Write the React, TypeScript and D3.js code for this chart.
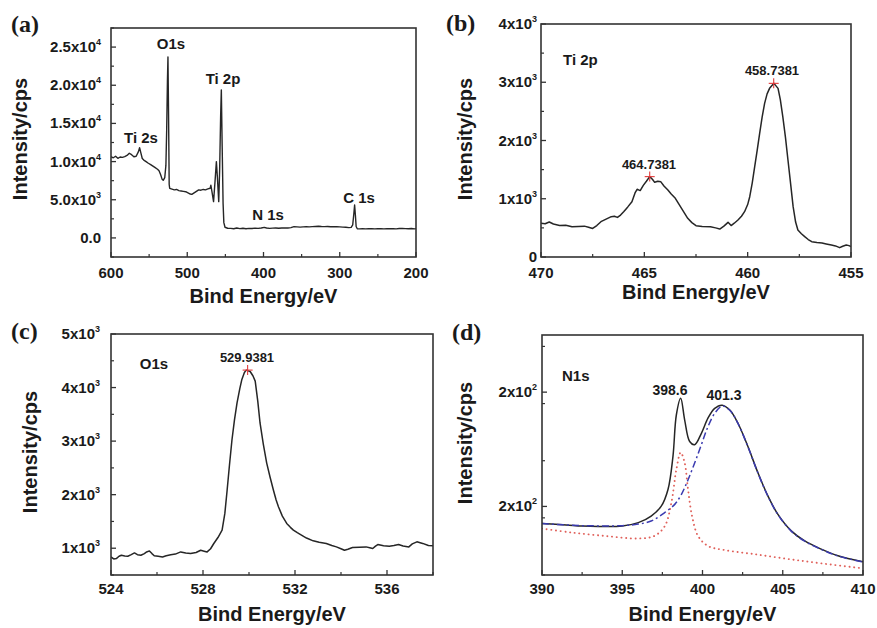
import React from "react";
import * as d3 from "d3";

// survey spectrum (a): [binding energy, counts]
const surveyData: [number, number][] = [
  [600, 10640], [597, 10500], [594, 10700], [591, 10430], [588, 10600], [585, 10550],
  [582, 10640], [579, 10800], [576, 11090], [573, 10900], [570, 10640], [567, 10700],
  [564, 11300], [562.5, 11820], [561, 11200], [559, 10400], [557, 10200], [554, 10000],
  [551, 9780], [548, 9600], [545, 9400], [542, 9200], [539, 9000], [537, 8800],
  [535, 8300], [533, 7700], [531.5, 7550], [529.5, 7900], [528, 9500], [527, 14000],
  [526, 20500], [525.3, 23700], [524.5, 16000], [523.7, 7000], [523, 6500], [520, 6400],
  [517, 6300], [514, 6350], [511, 6200], [508, 6150], [505, 6100], [502, 6050],
  [499, 5900], [496, 5750], [494, 5700], [491, 5900], [488, 6100], [485, 6300],
  [482, 6250], [479, 6350], [476, 6300], [473, 6420], [470, 6500], [469, 6900],
  [467.5, 6000], [465.5, 4750], [463.5, 7500], [461.8, 10000], [460.5, 8000], [458.7, 4750],
  [457.5, 9000], [456.2, 16000], [455.3, 19400], [454.2, 12000], [453, 4500], [452, 2000],
  [450.5, 1400], [447, 1270], [443, 1250], [439, 1200], [435, 1300], [431, 1220],
  [427, 1260], [423, 1200], [419, 1250], [415, 1230], [411, 1280], [407, 1250],
  [403, 1300], [399, 1380], [396, 1300], [392, 1250], [388, 1280], [384, 1300],
  [380, 1270], [376, 1300], [372, 1320], [368, 1300], [364, 1350], [360, 1480],
  [356, 1450], [352, 1420], [348, 1440], [344, 1460], [340, 1450], [336, 1480],
  [332, 1500], [328, 1520], [324, 1490], [320, 1480], [316, 1500], [312, 1470],
  [308, 1460], [304, 1480], [300, 1450], [296, 1420], [292, 1400], [288, 1350],
  [285, 1380], [283, 1700], [281.5, 3200], [280.5, 4320], [279.5, 3000], [278.5, 1500],
  [277, 1200], [274, 1180], [270, 1200], [266, 1190], [262, 1220], [258, 1200],
  [254, 1180], [250, 1210], [246, 1200], [242, 1190], [238, 1220], [234, 1200],
  [230, 1210], [226, 1190], [222, 1230], [218, 1250], [214, 1220], [210, 1200],
  [206, 1240], [202, 1180], [200, 1220],
];

// Ti 2p (b)
const ti2pData: [number, number][] = [
  [470, 578], [469.8, 570], [469.6, 600], [469.4, 566], [469.1, 540], [468.8, 545],
  [468.5, 520], [468.2, 525], [467.9, 530], [467.7, 512], [467.5, 490], [467.3, 540],
  [467.1, 606], [466.85, 650], [466.6, 692], [466.45, 700], [466.3, 680], [466.15, 720],
  [466, 778], [465.8, 860], [465.6, 950], [465.45, 1100], [465.35, 1162], [465.2, 1140],
  [465.05, 1230], [464.9, 1300], [464.74, 1380], [464.6, 1330], [464.5, 1282], [464.35, 1300],
  [464.2, 1290], [464.05, 1220], [463.86, 1150], [463.7, 1080], [463.5, 1007], [463.35, 920],
  [463.2, 836], [463.05, 750], [462.9, 664], [462.7, 590], [462.5, 538], [462.2, 525],
  [461.8, 520], [461.55, 500], [461.35, 480], [461.15, 530], [460.95, 595], [460.8, 540],
  [460.65, 580], [460.47, 635], [460.3, 700], [460.15, 778], [460.0, 900], [459.9, 1035],
  [459.78, 1270], [459.66, 1550], [459.54, 1830], [459.42, 2123], [459.3, 2400], [459.18, 2638],
  [459.06, 2800], [458.94, 2895], [458.73, 2981], [458.53, 2895], [458.42, 2700], [458.3, 2409],
  [458.17, 2050], [458.05, 1665], [457.92, 1250], [457.8, 864], [457.68, 600], [457.57, 464],
  [457.4, 400], [457.24, 349], [457.07, 300], [456.9, 263], [456.65, 250], [456.4, 240],
  [456.2, 225], [455.95, 206], [455.75, 190], [455.55, 160], [455.4, 185], [455.23, 206],
  [455.1, 195], [455, 180],
];

// O 1s (c)
const o1sData: [number, number][] = [
  [524, 837], [524.12, 800], [524.23, 807], [524.35, 850], [524.45, 869], [524.6, 855],
  [524.73, 850], [524.88, 880], [525.02, 912], [525.15, 880], [525.3, 869], [525.45, 900],
  [525.55, 930], [525.67, 950], [525.78, 900], [525.88, 860], [526.05, 850], [526.24, 837],
  [526.4, 860], [526.6, 880], [526.8, 890], [527.03, 931], [527.25, 910], [527.46, 900],
  [527.7, 920], [527.9, 962], [528.05, 945], [528.18, 931], [528.33, 990], [528.47, 1088],
  [528.65, 1200], [528.83, 1338], [528.95, 1650], [529.05, 2088], [529.15, 2550], [529.26, 3026],
  [529.37, 3400], [529.48, 3714], [529.6, 3980], [529.69, 4152], [529.8, 4280], [529.88, 4326],
  [530.05, 4300], [530.17, 4220], [530.27, 4120], [530.38, 3750], [530.48, 3339], [530.62, 2950],
  [530.77, 2589], [530.92, 2320], [531.06, 2088], [531.18, 1900], [531.28, 1775], [531.45, 1600],
  [531.64, 1463], [531.8, 1390], [531.93, 1338], [532.1, 1290], [532.28, 1244], [532.5, 1190],
  [532.79, 1138], [533.05, 1110], [533.36, 1088], [533.6, 1050], [533.8, 1025], [534.0, 990],
  [534.15, 962], [534.3, 980], [534.5, 1013], [534.8, 1020], [535.09, 1025], [535.25, 1010],
  [535.38, 994], [535.5, 1040], [535.6, 1069], [535.85, 1045], [536.1, 1038], [536.3, 1050],
  [536.5, 1069], [536.7, 1040], [536.95, 1025], [537.1, 1080], [537.3, 1119], [537.55, 1090],
  [537.8, 1050], [538, 1045],
];

// N 1s (d): envelope and two fitted components
const n1sEnvelope: [number, number][] = [
  [390, 192.5], [391.5, 191.9], [392.5, 191.4], [393.5, 191.2], [395, 191.4], [396, 192.9],
  [396.8, 195.8], [397.43, 200.1], [397.85, 207.4], [398.16, 221.9], [398.37, 240], [398.64, 247.3],
  [398.89, 237.8], [399.2, 228.4], [399.51, 227], [399.93, 232], [400.34, 238.6], [400.76, 242.9],
  [401.22, 244.3], [401.7, 242.2], [402.21, 236.4], [402.83, 226.2], [403.46, 214.6], [404.08, 204.5],
  [404.7, 196.5], [405.53, 189.3], [406.37, 184.9], [407.4, 181.3], [408.44, 178.4], [410, 175.8],
];
const n1sPeak4013: [number, number][] = [
  [390, 192.5], [392.5, 191.6], [395, 191.6], [396, 192.3], [396.8, 193.6], [397.64, 197.3],
  [398.27, 200.9], [398.68, 205.2], [399.1, 211.7], [399.51, 219], [399.93, 227], [400.34, 234.9],
  [400.76, 240.7], [401.22, 243.9], [401.7, 242.1], [402.21, 236.3], [402.83, 226.1], [403.46, 214.5],
  [404.08, 204.4], [404.7, 196.4], [405.53, 189.2], [406.37, 184.8], [407.4, 181.2], [408.44, 178.3],
  [410, 175.7],
];
const n1sPeak3986: [number, number][] = [
  [390, 190.3], [391.83, 188.6], [393.9, 187.1], [395.98, 186], [397, 187.1], [397.65, 191.4],
  [398.06, 201.6], [398.37, 216.1], [398.64, 223.6], [398.89, 219], [399.1, 207.4], [399.35, 195.8],
  [399.72, 187.1], [400.34, 182.7], [401.38, 180.9], [403.25, 179.1], [405.33, 177], [407.4, 175.1],
  [410, 172.9],
];

const surveyXTicks = [600, 500, 400, 300, 200];
const surveyYTicks = [0, 5000, 10000, 15000, 20000, 25000];
const ti2pXTicks = [470, 465, 460, 455];
const ti2pYTicks = [0, 1000, 2000, 3000, 4000];
const o1sXTicks = [524, 528, 532, 536];
const o1sYTicks = [1000, 2000, 3000, 4000, 5000];
const n1sXTicks = [390, 395, 400, 405, 410];
const n1sYTicks = [200, 250];

const SANS = "'Liberation Sans', Arial, Helvetica, sans-serif";
const SERIF = "'Liberation Serif', 'Times New Roman', serif";

type Series = { data: [number, number][]; color: string; width: number; dash?: string; dots?: boolean; smooth?: boolean };
type Note = { text: string; x: number; y: number; size: number; anchor?: string };

function Panel(p: {
  id: string;
  box: [number, number, number, number];
  xDomain: [number, number];
  yDomain: [number, number];
  xTicks: number[];
  xMinorStep: number;
  yTicks: number[];
  yMinorStep: number;
  yFmt: (v: number) => [string, string | null];
  yLabelRight: number;
  xLabelBase: number;
  xTitleBase: number;
  yTitleX: number;
  yTitleY: number;
  tag: string;
  tagX: number;
  tagY: number;
  series: Series[];
  notes: Note[];
  markers?: [number, number][];
}) {
  const [x0, y0, x1, y1] = p.box;
  const xs = d3.scaleLinear().domain(p.xDomain).range([x0, x1]);
  const ys = d3.scaleLinear().domain(p.yDomain).range([y1, y0]);
  const lo = Math.min(...p.xDomain), hi = Math.max(...p.xDomain);
  const xMinor = d3.range(lo, hi + 1e-9, p.xMinorStep).filter((v) => !p.xTicks.some((t) => Math.abs(t - v) < 1e-6));
  const yMinor = d3.range(p.yDomain[0], p.yDomain[1] + 1e-9, p.yMinorStep)
    .map((v) => Math.round(v * 1000) / 1000)
    .filter((v) => !p.yTicks.some((t) => Math.abs(t - v) < 1e-6));
  const mk = (s: Series) =>
    d3.line<[number, number]>()
      .x((d) => xs(d[0]))
      .y((d) => ys(d[1]))
      .curve(s.smooth ? d3.curveCatmullRom.alpha(0.5) : d3.curveLinear)(s.data) || "";

  return (
    <g fontFamily={SANS} fontWeight="bold" fill="#1a1a1a">
      <defs>
        <clipPath id={`clip-${p.id}`}>
          <rect x={x0} y={y0} width={x1 - x0} height={y1 - y0} />
        </clipPath>
      </defs>
      <g clipPath={`url(#clip-${p.id})`}>
        {p.series.map((s, i) => (
          <path key={i} d={mk(s)} fill="none" stroke={s.color} strokeWidth={s.width}
            strokeDasharray={s.dash} strokeLinejoin="round" strokeLinecap={s.dots ? "round" : "butt"} />
        ))}
      </g>
      {(p.markers || []).map((m, i) => (
        <g key={i} stroke="#e23b3b" strokeWidth={1.1}>
          <line x1={xs(m[0]) - 5} x2={xs(m[0]) + 5} y1={ys(m[1])} y2={ys(m[1])} />
          <line x1={xs(m[0])} x2={xs(m[0])} y1={ys(m[1]) - 5} y2={ys(m[1]) + 5} />
        </g>
      ))}
      {p.notes.map((n, i) => (
        <text key={i} x={n.x} y={n.y} fontSize={n.size} textAnchor={n.anchor || "middle"}>{n.text}</text>
      ))}
      <rect x={x0} y={y0} width={x1 - x0} height={y1 - y0} fill="none" stroke="#333" strokeWidth={1.6} />
      {p.xTicks.map((t) => (
        <g key={t}>
          <line x1={xs(t)} x2={xs(t)} y1={y1} y2={y1 - 5} stroke="#333" strokeWidth={1.3} />
          <text x={xs(t)} y={p.xLabelBase} fontSize={15} textAnchor="middle">{t}</text>
        </g>
      ))}
      {xMinor.map((t) => (
        <line key={t} x1={xs(t)} x2={xs(t)} y1={y1} y2={y1 - 3} stroke="#333" strokeWidth={1.2} />
      ))}
      {p.yTicks.map((t) => {
        const [m, e] = p.yFmt(t);
        return (
          <g key={t}>
            <line x1={x0} x2={x0 + 5} y1={ys(t)} y2={ys(t)} stroke="#333" strokeWidth={1.3} />
            <text x={p.yLabelRight} y={ys(t) + 5} fontSize={15} textAnchor="end">
              {m}
              {e && <tspan dy={-7} fontSize={9}>{e}</tspan>}
            </text>
          </g>
        );
      })}
      {yMinor.map((t) => (
        <line key={t} x1={x0} x2={x0 + 3} y1={ys(t)} y2={ys(t)} stroke="#333" strokeWidth={1.2} />
      ))}
      <text x={(x0 + x1) / 2} y={p.xTitleBase} fontSize={20} textAnchor="middle">Bind Energy/eV</text>
      <text transform={`translate(${p.yTitleX},${p.yTitleY}) rotate(-90)`} fontSize={20} textAnchor="middle">
        Intensity/cps
      </text>
      <text x={p.tagX} y={p.tagY} fontFamily={SERIF} fontSize={24} fontWeight="bold">{p.tag}</text>
    </g>
  );
}

const sci = (v: number, dec: number): [string, string | null] => {
  if (v === 0) return [dec ? (0).toFixed(dec) : "0", null];
  const e = Math.floor(Math.log10(v));
  const m = v / Math.pow(10, e);
  return [`${m.toFixed(dec)}x10`, String(e)];
};

export default function App() {
  const black = "#262626";
  return (
    <svg width={877} height={628} style={{ position: "absolute", left: 0, top: 0, background: "#fff" }}>
      <Panel
        id="a" box={[111, 28, 416, 257]} xDomain={[600, 200]} yDomain={[-2500, 27500]}
        xTicks={surveyXTicks} xMinorStep={50} yTicks={surveyYTicks} yMinorStep={2500}
        yFmt={(v) => sci(v, 1)} yLabelRight={101} xLabelBase={278} xTitleBase={303}
        yTitleX={27} yTitleY={139} tag="(a)" tagX={11} tagY={32}
        series={[{ data: surveyData, color: black, width: 1.4 }]}
        notes={[
          { text: "O1s", x: 171, y: 49, size: 15 },
          { text: "Ti 2p", x: 223, y: 84, size: 15 },
          { text: "Ti 2s", x: 141, y: 143, size: 15 },
          { text: "N 1s", x: 268, y: 220, size: 15 },
          { text: "C 1s", x: 359, y: 203, size: 15 },
        ]}
      />
      <Panel
        id="b" box={[541, 24, 851, 257]} xDomain={[470, 455]} yDomain={[0, 4000]}
        xTicks={ti2pXTicks} xMinorStep={2.5} yTicks={ti2pYTicks} yMinorStep={500}
        yFmt={(v) => sci(v, 0)} yLabelRight={537} xLabelBase={278} xTitleBase={299}
        yTitleX={472} yTitleY={139} tag="(b)" tagX={446} tagY={31}
        series={[{ data: ti2pData, color: black, width: 1.5 }]}
        markers={[[464.74, 1380], [458.74, 2981]]}
        notes={[
          { text: "Ti 2p", x: 563, y: 65, size: 15, anchor: "start" },
          { text: "458.7381", x: 772, y: 75, size: 13 },
          { text: "464.7381", x: 649, y: 169, size: 13 },
        ]}
      />
      <Panel
        id="c" box={[111, 334, 433, 575]} xDomain={[524, 538]} yDomain={[500, 5000]}
        xTicks={o1sXTicks} xMinorStep={2} yTicks={o1sYTicks} yMinorStep={500}
        yFmt={(v) => sci(v, 0)} yLabelRight={100} xLabelBase={594} xTitleBase={621}
        yTitleX={37} yTitleY={452} tag="(c)" tagX={11} tagY={339}
        series={[{ data: o1sData, color: black, width: 1.5 }]}
        markers={[[529.94, 4326]]}
        notes={[
          { text: "O1s", x: 154, y: 369, size: 15 },
          { text: "529.9381", x: 247, y: 362, size: 13 },
        ]}
      />
      <Panel
        id="d" box={[542, 335, 863, 575]} xDomain={[390, 410]} yDomain={[170, 275]}
        xTicks={n1sXTicks} xMinorStep={2.5} yTicks={n1sYTicks} yMinorStep={25}
        yFmt={() => ["2x10", "2"]} yLabelRight={537} xLabelBase={594} xTitleBase={621}
        yTitleX={472} yTitleY={443} tag="(d)" tagX={452} tagY={340}
        series={[
          { data: n1sPeak3986, color: "#e0605a", width: 1.9, dash: "0.1 4.6", dots: true, smooth: true },
          { data: n1sEnvelope, color: black, width: 1.5, smooth: true },
          { data: n1sPeak4013, color: "#3b3bb0", width: 1.5, dash: "7 3 2 3", smooth: true },
        ]}
        notes={[
          { text: "N1s", x: 562, y: 381, size: 15, anchor: "start" },
          { text: "398.6", x: 670, y: 395, size: 14 },
          { text: "401.3", x: 724, y: 400, size: 14 },
        ]}
      />
    </svg>
  );
}
